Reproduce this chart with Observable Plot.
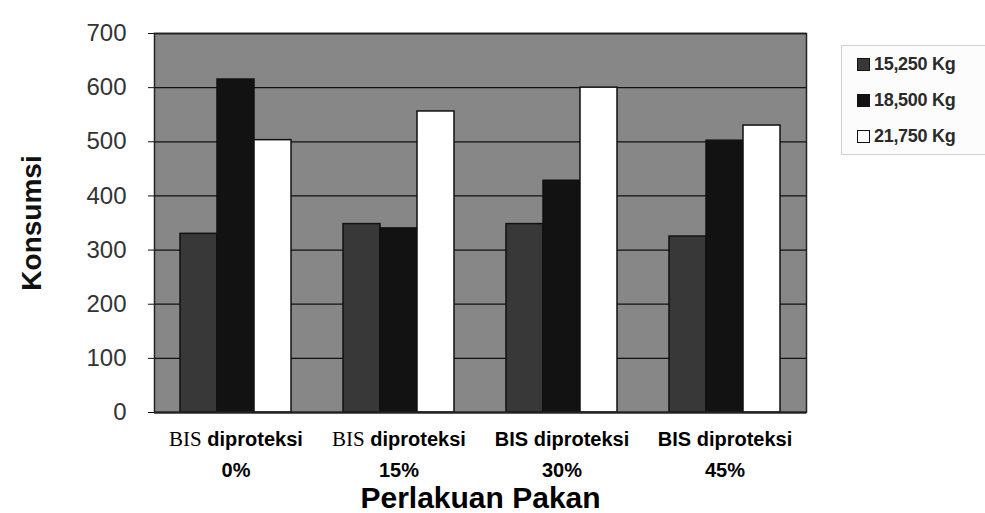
<!DOCTYPE html>
<html>
<head>
<meta charset="utf-8">
<script src="https://cdn.jsdelivr.net/npm/d3@7"></script>
<script src="https://cdn.jsdelivr.net/npm/@observablehq/plot@0.6"></script>
<style>
  body { margin: 0; background: #ffffff; font-family: "Liberation Sans", Arial, sans-serif; }
  #wrap { position: relative; width: 985px; height: 513px; overflow: hidden; }
  #legend { position: absolute; left: 841px; top: 45px; width: 150px; height: 110px;
            border: 1px solid #cfcfcf; background: #fcfcfc; box-sizing: border-box; }
  .item { position: absolute; left: 15px; display: flex; align-items: center;
          font-size: 18px; font-weight: bold; color: #2a2a2a; letter-spacing: -0.3px; }
  .sw { width: 13px; height: 13px; border: 1.5px solid #111; margin-right: 4px; box-sizing: border-box; }
</style>
</head>
<body>
<div id="wrap"></div>
<script>
// ---- data ----
const categoryPrefix = ["BIS", "BIS", "BIS", "BIS"];
const categoryWord = "diproteksi";
const categoryLevel = ["0%", "15%", "30%", "45%"];
const seriesNames = ["15,250 Kg", "18,500 Kg", "21,750 Kg"];
const values15250 = [330, 348, 348, 325];
const values18500 = [615, 340, 428, 502];
const values21750 = [503, 556, 600, 530];
const yTicks = [0, 100, 200, 300, 400, 500, 600, 700];
const seriesColors = ["#383838", "#121212", "#ffffff"];
const prefixSerif = [true, true, false, false];

const categories = categoryLevel.map(l => `${categoryWord} ${l}`);
const seriesValues = [values15250, values18500, values21750];
const table = [];
categories.forEach((c, i) => {
  seriesNames.forEach((s, j) => table.push({category: c, series: s, value: seriesValues[j][i]}));
});

const font = "'Liberation Sans', Arial, sans-serif";

const chart = Plot.plot({
  width: 985,
  height: 513,
  marginLeft: 153,
  marginRight: 179,
  marginTop: 33,
  marginBottom: 101,
  style: {fontFamily: font, background: "transparent", color: "#111"},
  fx: {domain: categories, padding: 0},
  x: {domain: seriesNames, paddingInner: 0, paddingOuter: 0.7, axis: null},
  y: {domain: [0, 700]},
  color: {domain: seriesNames, range: seriesColors},
  marks: [
    Plot.frame({facet: "super", fill: "#878787", stroke: null}),
    Plot.gridY(yTicks, {stroke: "#111", strokeOpacity: 1, strokeWidth: 1.3}),
    Plot.barY(table, {fx: "category", x: "series", y: "value", fill: "series",
                      stroke: "#111", strokeWidth: 1.5}),
    Plot.ruleY([0], {stroke: "#222", strokeWidth: 2}),
    Plot.frame({facet: "super", stroke: "#222", strokeWidth: 1.5}),
    Plot.axisY(yTicks, {tickSize: 6, tickPadding: 22, fontSize: 24, fill: "#333",
                        label: "Konsumsi", labelArrow: "none", labelAnchor: "center", labelOffset: 133,
                        tickFormat: d => String(d)}),
    Plot.axisFx({anchor: "bottom", tickSize: 0, tickPadding: 5, fontSize: 20,
                 label: "Perlakuan Pakan", labelArrow: "none", labelAnchor: "center", labelOffset: 95,
                 tickFormat: d => d})
  ]
});

document.getElementById("wrap").appendChild(chart);

// ---- styling of text produced by Plot ----
const svg = d3.select(chart);
svg.selectAll('[aria-label="y-axis label"] text, [aria-label="y-axis label"]')
  .filter(function() { return this.tagName === "text"; })
  .text("Konsumsi")
  .style("font-size", "28px").style("font-weight", "bold").attr("fill", "#111");
svg.selectAll('[aria-label="fx-axis label"] text, [aria-label="fx-axis label"]')
  .filter(function() { return this.tagName === "text"; })
  .text("Perlakuan Pakan")
  .style("font-size", "30px").style("font-weight", "bold").attr("fill", "#000");

svg.selectAll('[aria-label="fx-axis tick label"] text').each(function(_, i) {
  const t = d3.select(this);
  t.text(null).attr("fill", "#000");
  const l1 = t.append("tspan").attr("x", 0).attr("dy", "0.71em");
  l1.append("tspan").text(categoryPrefix[i])
    .style("font-family", prefixSerif[i] ? "'Liberation Serif', 'Times New Roman', serif" : font)
    .style("font-weight", prefixSerif[i] ? "normal" : "bold")
    .style("font-size", prefixSerif[i] ? "21px" : "20px");
  l1.append("tspan").text(" " + categoryWord).style("font-weight", "bold");
  t.append("tspan").attr("x", 0).attr("dy", "31px").text(categoryLevel[i]).style("font-weight", "bold");
});

// ---- legend ----
const legend = d3.select("#wrap").append("div").attr("id", "legend");
seriesNames.forEach((s, j) => {
  const it = legend.append("div").attr("class", "item").style("top", `${8 + j * 36}px`);
  it.append("div").attr("class", "sw").style("background", seriesColors[j]);
  it.append("span").text(s);
});
</script>
</body>
</html>
